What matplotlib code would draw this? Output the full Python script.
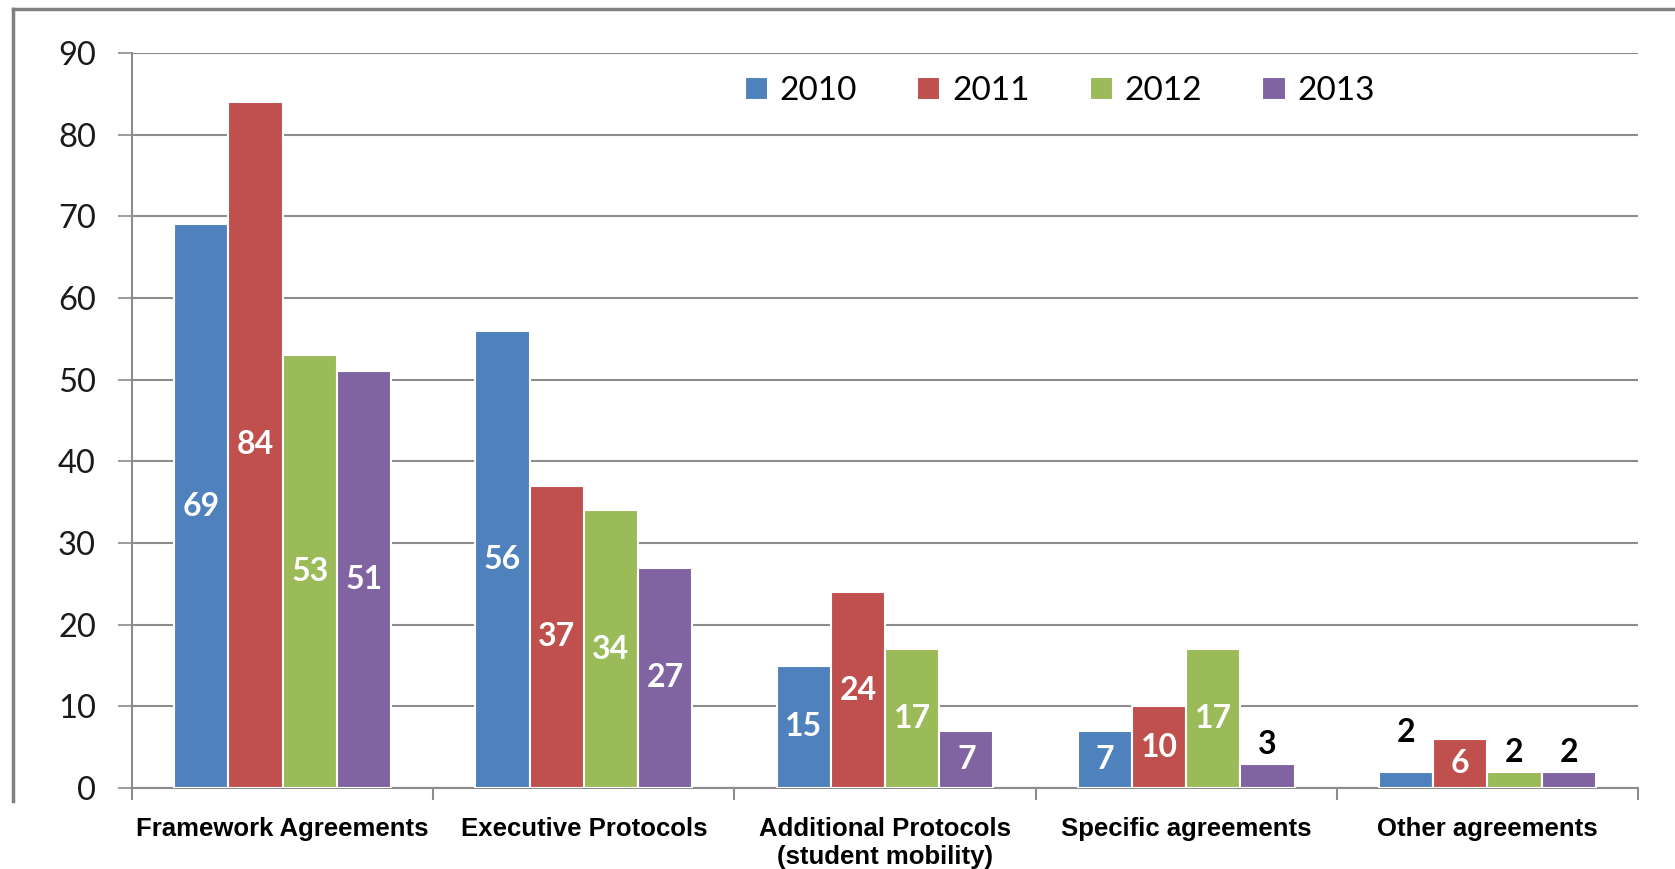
import matplotlib
matplotlib.use("Agg")
import matplotlib.pyplot as plt
from matplotlib.lines import Line2D
import numpy as np

categories = ["Framework Agreements", "Executive Protocols",
              "Additional Protocols\n(student mobility)", "Specific agreements",
              "Other agreements"]
years = ["2010", "2011", "2012", "2013"]
v2010 = [69, 56, 15, 7, 2]
v2011 = [84, 37, 24, 10, 6]
v2012 = [53, 34, 17, 17, 2]
v2013 = [51, 27, 7, 3, 2]
yticks = [0, 10, 20, 30, 40, 50, 60, 70, 80, 90]

series = [v2010, v2011, v2012, v2013]
colors = ["#4F81BD", "#C0504D", "#9BBB59", "#8064A2"]

W, H = 1675, 869
fig = plt.figure(figsize=(W / 100, H / 100), dpi=100)
ax = fig.add_axes([132 / W, 1 - 788 / H, (1638 - 132) / W, (788 - 53) / H])

x = np.arange(len(categories))
bw = 0.18
tick_font = "Lato"
for i, (vals, c, yr) in enumerate(zip(series, colors, years)):
    pos = x + (i - 1.5) * bw
    ax.bar(pos, vals, width=bw, color=c, edgecolor="white", linewidth=1.5,
           label=yr, zorder=3)
    for j, (px, v) in enumerate(zip(pos, vals)):
        if v >= 6:
            ax.text(px, v / 2, str(v), ha="center", va="center", color="white",
                    fontsize=23, fontweight="bold", family=tick_font, zorder=4)
        else:
            off = 14
            if i == 0 and j == 4:
                off = 28
            ax.annotate(str(v), (px, v), xytext=(0, off), textcoords="offset points",
                        ha="center", va="center", color="black", fontsize=23,
                        fontweight="bold", family=tick_font, zorder=4)

ax.set_xlim(-0.5, len(categories) - 0.5)
ax.set_ylim(0, 90)
ax.set_yticks(yticks)
ax.set_yticklabels([str(t) for t in yticks], fontsize=23.5, family=tick_font, color="#1a1a1a")
ax.yaxis.grid(True, color="#8c8c8c", linewidth=1.5, zorder=0)
ax.set_axisbelow(True)
ax.tick_params(axis="y", length=10, width=1.2, color="#8c8c8c", pad=16)

ax.set_xticks(x)
ax.set_xticklabels(categories, fontsize=18.5, fontweight="bold",
                   family="Liberation Sans", linespacing=1.2)
ax.tick_params(axis="x", length=0, pad=21)
for b in np.arange(-0.5, len(categories), 1.0):
    ax.plot([b, b], [0, -1.3], color="#8c8c8c", lw=1.5, clip_on=False, zorder=2)

for s in ["top", "right"]:
    ax.spines[s].set_visible(False)
for s in ["left", "bottom"]:
    ax.spines[s].set_color("#8c8c8c")
    ax.spines[s].set_linewidth(1.5)

leg = ax.legend(loc="center", bbox_to_anchor=(0.616, 0.948), ncol=4, frameon=False,
                prop={"family": tick_font, "size": 24}, handlelength=0.7,
                handleheight=0.7, handletextpad=0.35, columnspacing=1.8)

# outer frame (left and top edges)
fig.add_artist(Line2D([13 / W, 13 / W], [1 - 9 / H, 1 - 801 / H], color="#808080", lw=2.5,
                      transform=fig.transFigure))
fig.add_artist(Line2D([13 / W, 1.0], [1 - 9 / H, 1 - 9 / H], color="#808080", lw=2.5,
                      transform=fig.transFigure))

fig.savefig("out.png", dpi=100)
